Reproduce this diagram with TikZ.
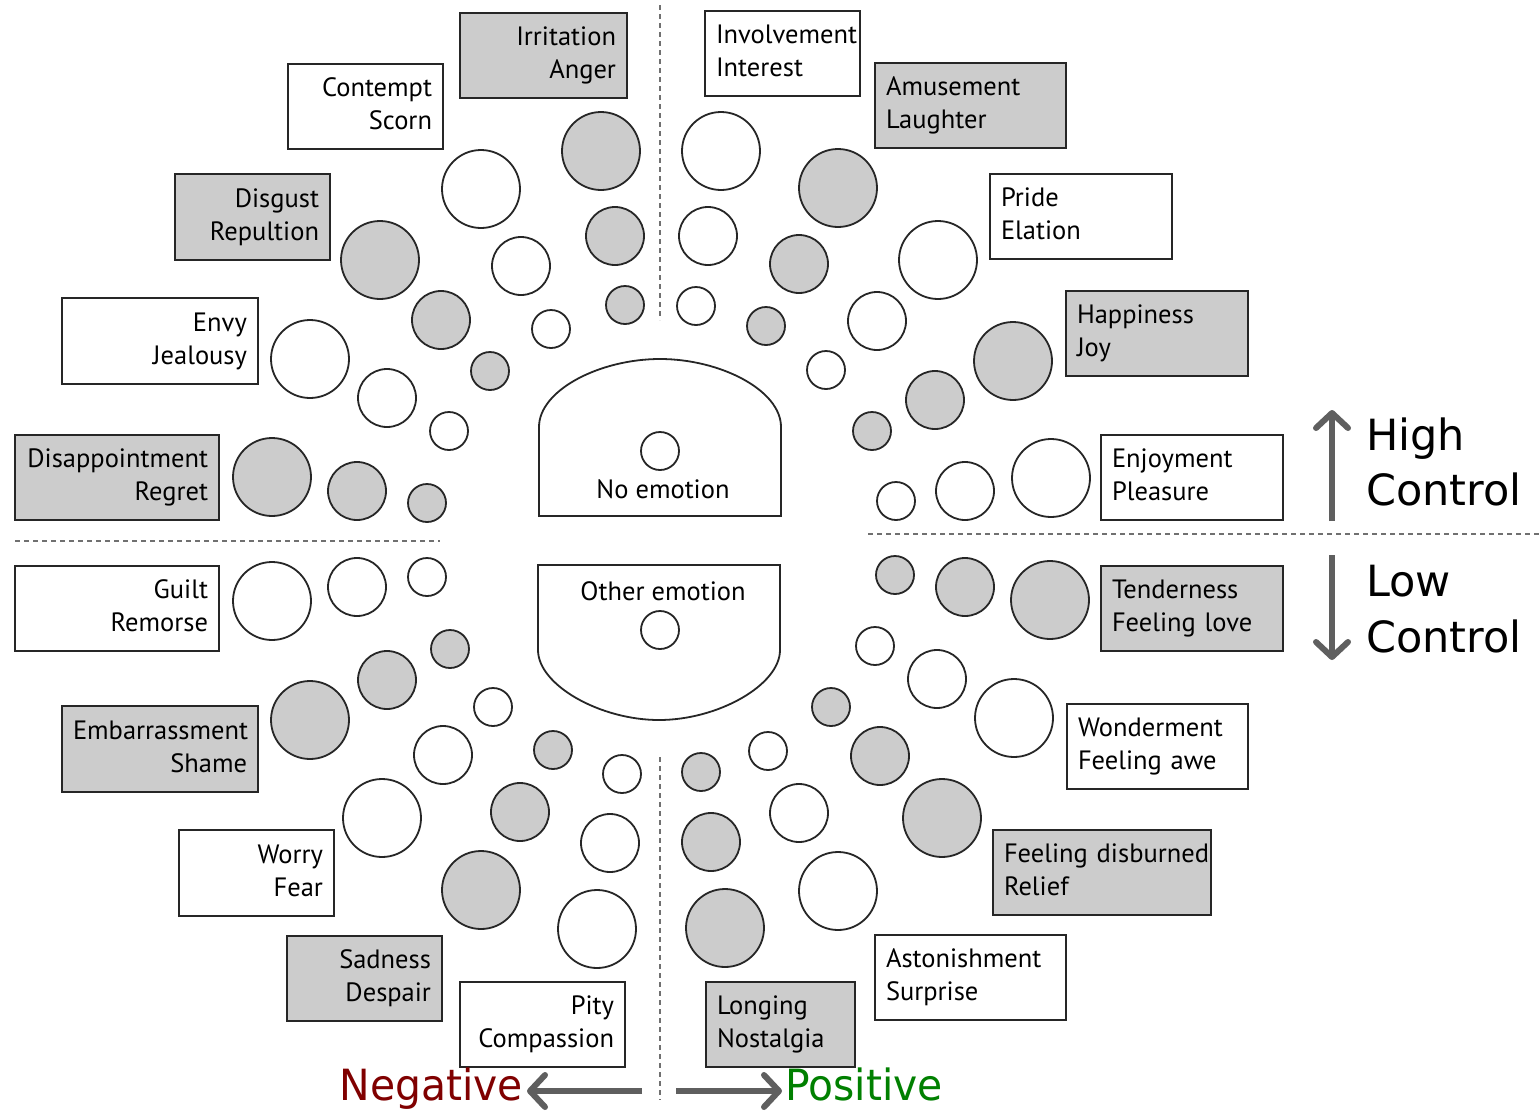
\documentclass[tikz,border=0pt]{standalone}
\usepackage{fontspec}
\setmainfont{PT Sans}
\newfontfamily\ctlfont[FakeStretch=0.95]{DejaVu Sans}
\newfontfamily\ctlwfont{DejaVu Sans}
\usetikzlibrary{arrows.meta}
\definecolor{boxgray}{HTML}{CCCCCC}
\definecolor{arrgray}{HTML}{5F5F5F}
\definecolor{negred}{HTML}{800000}
\definecolor{posgreen}{HTML}{008000}
\definecolor{dashgray}{HTML}{707070}
\newcommand\emobox[8]{%
  \pgfmathsetmacro\bw{#4-#2}\pgfmathsetmacro\bh{#5-#3}\pgfmathsetmacro\tw{#4-#2-22}%
  \node[ebox, fill=#6, align=#7, minimum width=\bw pt, minimum height=\bh pt, text width=\tw pt]
    (#1) at ({(#2+#4)/2},{(#3+#5)/2}) {\strut #8\strut};}
\newcommand\emc[5]{\node[ecirc, fill=#5, minimum size=#4*2pt] (#1) at (#2,#3) {};}
\begin{document}
\begin{tikzpicture}[x=1pt,y=-1pt,
  ebox/.style={draw=black!85, line width=1.8pt, inner xsep=11pt, inner ysep=0pt,
    font=\fontsize{26.5}{33}\selectfont},
  ecirc/.style={circle, draw=black!85, line width=1.8pt, inner sep=0pt},
  dashline/.style={draw=dashgray, line width=1.2pt, dash pattern=on 5pt off 4pt},
  ctlarrow/.style={draw=arrgray, line width=6pt, -{Straight Barb[length=15pt,width=32pt,round]}},
  ctltext/.style={font=\ctlwfont\fontsize{43}{50}\selectfont, inner sep=0pt},
  valtext/.style={font=\ctlfont\fontsize{43}{50}\selectfont, inner sep=0pt},
  lbl/.style={font=\fontsize{26.5}{33}\selectfont, inner sep=0pt, anchor=base}]
\useasboundingbox (0,0) rectangle (1539,1111);
\fill[white] (0,0) rectangle (1539,1111);
% dashed axes
\coordinate (vt1) at (660,5); \coordinate (vt2) at (660,320);
\coordinate (vb1) at (660,757); \coordinate (vb2) at (660,1100);
\coordinate (hl1) at (15,541); \coordinate (hl2) at (440,541);
\coordinate (hr1) at (868,534); \coordinate (hr2) at (1539,534);
\draw[dashline] (vt1) -- (vt2);
\draw[dashline] (vb1) -- (vb2);
\draw[dashline] (hl1) -- (hl2);
\draw[dashline] (hr1) -- (hr2);
% boxes left
\emobox{irr}{460}{13}{627}{98}{boxgray}{right}{Irritation\\Anger}
\emobox{con}{288}{64}{443}{149}{white}{right}{Contempt\\Scorn}
\emobox{dis}{175}{174}{330}{260}{boxgray}{right}{Disgust\\Repultion}
\emobox{env}{62}{298}{258}{384}{white}{right}{Envy\\Jealousy}
\emobox{dap}{15}{435}{219}{520}{boxgray}{right}{Disappointment\\Regret}
\emobox{gui}{15}{566}{219}{651}{white}{right}{Guilt\\Remorse}
\emobox{emb}{62}{706}{258}{792}{boxgray}{right}{Embarrassment\\Shame}
\emobox{wor}{179}{830}{334}{916}{white}{right}{Worry\\Fear}
\emobox{sad}{287}{936}{442}{1021}{boxgray}{right}{Sadness\\Despair}
\emobox{pit}{460}{982}{625}{1067}{white}{right}{Pity\\Compassion}
% boxes right
\emobox{inv}{705}{11}{860}{96}{white}{left}{Involvement\\Interest}
\emobox{amu}{875}{63}{1066}{148}{boxgray}{left}{Amusement\\Laughter}
\emobox{pri}{990}{174}{1172}{259}{white}{left}{Pride\\Elation}
\emobox{hap}{1066}{291}{1248}{376}{boxgray}{left}{Happiness\\Joy}
\emobox{enj}{1101}{435}{1283}{520}{white}{left}{Enjoyment\\Pleasure}
\emobox{ten}{1101}{566}{1283}{651}{boxgray}{left}{Tenderness\\Feeling love}
\emobox{won}{1067}{704}{1248}{789}{white}{left}{Wonderment\\Feeling awe}
\emobox{rel}{993}{830}{1211}{915}{boxgray}{left}{\hbox{Feeling disburned}\\Relief}
\emobox{ast}{875}{935}{1066}{1020}{white}{left}{Astonishment\\Surprise}
\emobox{lon}{706}{982}{855}{1067}{boxgray}{left}{Longing\\Nostalgia}
% circles left
\emc{irr1}{601}{151}{39}{boxgray}\emc{irr2}{615}{236}{29}{boxgray}\emc{irr3}{625}{305}{19}{boxgray}
\emc{con1}{481}{189}{39}{white}\emc{con2}{521}{266}{29}{white}\emc{con3}{551}{329}{19}{white}
\emc{dis1}{380}{260}{39}{boxgray}\emc{dis2}{441}{320}{29}{boxgray}\emc{dis3}{490}{371}{19}{boxgray}
\emc{env1}{310}{359}{39}{white}\emc{env2}{387}{398}{29}{white}\emc{env3}{449}{431}{19}{white}
\emc{dap1}{272}{477}{39}{boxgray}\emc{dap2}{357}{491}{29}{boxgray}\emc{dap3}{427}{503}{19}{boxgray}
\emc{gui1}{272}{601}{39}{white}\emc{gui2}{357}{587}{29}{white}\emc{gui3}{427}{577}{19}{white}
\emc{emb1}{310}{720}{39}{boxgray}\emc{emb2}{387}{680}{29}{boxgray}\emc{emb3}{450}{649}{19}{boxgray}
\emc{wor1}{382}{818}{39}{white}\emc{wor2}{443}{755}{29}{white}\emc{wor3}{493}{707}{19}{white}
\emc{sad1}{481}{890}{39}{boxgray}\emc{sad2}{520}{812}{29}{boxgray}\emc{sad3}{553}{750}{19}{boxgray}
\emc{pit1}{597}{929}{39}{white}\emc{pit2}{610}{843}{29}{white}\emc{pit3}{622}{774}{19}{white}
% circles right
\emc{inv1}{721}{151}{39}{white}\emc{inv2}{708}{236}{29}{white}\emc{inv3}{696}{306}{19}{white}
\emc{amu1}{838}{188}{39}{boxgray}\emc{amu2}{799}{264}{29}{boxgray}\emc{amu3}{766}{326}{19}{boxgray}
\emc{pri1}{938}{260}{39}{white}\emc{pri2}{877}{321}{29}{white}\emc{pri3}{826}{370}{19}{white}
\emc{hap1}{1013}{361}{39}{boxgray}\emc{hap2}{935}{400}{29}{boxgray}\emc{hap3}{872}{431}{19}{boxgray}
\emc{enj1}{1051}{478}{39}{white}\emc{enj2}{965}{491}{29}{white}\emc{enj3}{896}{501}{19}{white}
\emc{ten1}{1050}{600}{39}{boxgray}\emc{ten2}{965}{587}{29}{boxgray}\emc{ten3}{895}{575}{19}{boxgray}
\emc{won1}{1014}{718}{39}{white}\emc{won2}{937}{679}{29}{white}\emc{won3}{875}{646}{19}{white}
\emc{rel1}{942}{818}{39}{boxgray}\emc{rel2}{880}{756}{29}{boxgray}\emc{rel3}{831}{707}{19}{boxgray}
\emc{ast1}{838}{891}{39}{white}\emc{ast2}{799}{813}{29}{white}\emc{ast3}{768}{751}{19}{white}
\emc{lon1}{725}{928}{39}{boxgray}\emc{lon2}{711}{842}{29}{boxgray}\emc{lon3}{701}{772}{19}{boxgray}
% centre shapes
\draw[draw=black!85, line width=1.8pt] (539,516) -- (539,427)
  .. controls (539,390) and (600,359) .. (660,359)
  .. controls (720,359) and (781,390) .. (781,427) -- (781,516) -- cycle;
\emc{noc}{660}{451}{19}{white}
\node[lbl] (notxt) at (663,498) {No emotion};
\draw[draw=black!85, line width=1.8pt] (538,565) -- (538,650)
  .. controls (538,685) and (600,720) .. (659,720)
  .. controls (718,720) and (780,685) .. (780,650) -- (780,565) -- cycle;
\emc{otc}{660}{630}{19}{white}
\node[lbl] (ottxt) at (663,600) {Other emotion};
% control arrows
\coordinate (hc1) at (1332,521); \coordinate (hc2) at (1332,410);
\coordinate (lc1) at (1332,555); \coordinate (lc2) at (1332,660);
\draw[ctlarrow] (hc1) -- (hc2);
\draw[ctlarrow] (lc1) -- (lc2);
\node[ctltext, anchor=base west] (high) at (1366,450) {High};
\node[ctltext, anchor=base west] (hctl) at (1366,505) {Control};
\node[ctltext, anchor=base west] (low) at (1366,596) {Low};
\node[ctltext, anchor=base west] (lctl) at (1366,652) {Control};
% valence arrows
\coordinate (na1) at (642,1091); \coordinate (na2) at (527,1091);
\coordinate (pa1) at (676,1091); \coordinate (pa2) at (782,1091);
\draw[ctlarrow] (na1) -- (na2);
\draw[ctlarrow] (pa1) -- (pa2);
\node[valtext, anchor=base east, text=negred] (neg) at (523,1100) {Negative};
\node[valtext, anchor=base west, text=posgreen] (pos) at (785,1100) {Positive};
\end{tikzpicture}
\end{document}
